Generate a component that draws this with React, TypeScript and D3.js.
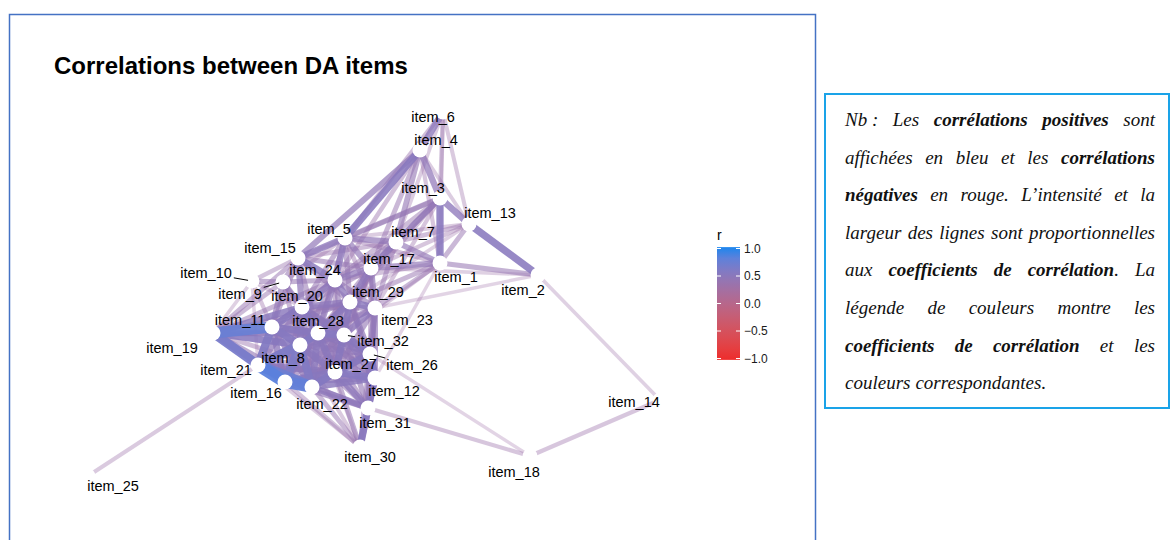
import { useEffect, useRef } from 'react'
import * as d3 from 'd3'

const title = 'Correlations between DA items'

const items = [
  'item_1', 'item_2', 'item_3', 'item_4', 'item_5', 'item_6', 'item_7', 'item_8',
  'item_9', 'item_10', 'item_11', 'item_12', 'item_13', 'item_14', 'item_15', 'item_16',
  'item_17', 'item_18', 'item_19', 'item_20', 'item_21', 'item_22', 'item_23', 'item_24',
  'item_25', 'item_26', 'item_27', 'item_28', 'item_29', 'item_30', 'item_31', 'item_32',
]

// MDS coordinates of the items (same order as items)
const nodeX = [0.60, 1.58, 0.60, 0.40, -0.35, 0.63, 0.16, -0.80, -0.97, -1.28, -1.08, -0.05, 0.89, 2.80, -0.82, -0.95,
  -0.09, 1.50, -1.67, -0.78, -1.22, -0.68, -0.05, -0.45, -2.92, -0.10, -0.45, -0.62, -0.30, -0.20, -0.12, -0.36]
const nodeY = [0.37, 0.25, 1.02, 1.50, 0.62, 1.88, 0.58, -0.45, 0.18, 0.19, -0.27, -0.78, 0.76, -1.00, 0.42, -0.82,
  0.32, -1.56, -0.33, -0.07, -0.65, -0.87, -0.08, 0.20, -1.76, -0.54, -0.72, -0.33, -0.02, -1.47, -1.08, -0.35]

// repelled label positions
const labelX = [0.76, 1.43, 0.43, 0.56, -0.51, 0.53, 0.33, -0.97, -1.40, -1.74, -1.40, 0.14, 1.10, 2.54, -1.10, -1.24,
  0.09, 1.34, -2.08, -0.83, -1.54, -0.58, 0.27, -0.65, -2.67, 0.32, -0.29, -0.62, -0.02, -0.10, 0.05, 0.03]
const labelY = [0.23, 0.10, 1.12, 1.60, 0.71, 1.83, 0.68, -0.58, 0.06, 0.27, -0.20, -0.91, 0.87, -1.02, 0.52, -0.93,
  0.41, -1.72, -0.48, 0.04, -0.70, -1.04, -0.20, 0.30, -1.86, -0.65, -0.64, -0.21, 0.08, -1.57, -1.23, -0.41]
const leaderItems = [9, 10, 26, 32]

// [item a, item b, r]
const edges: [number, number, number][] = [
  [25, 21, 0.33], [18, 14, 0.34], [18, 31, 0.34], [18, 26, 0.30], [14, 2, 0.31],
  [2, 13, 0.52], [2, 1, 0.40], [2, 23, 0.30], [2, 17, 0.31],
  [13, 3, 0.48], [13, 1, 0.38], [13, 7, 0.36], [13, 6, 0.33], [13, 17, 0.34], [13, 5, 0.32], [13, 29, 0.31], [13, 4, 0.32],
  [6, 4, 0.48], [6, 3, 0.35], [6, 5, 0.36], [6, 1, 0.31], [6, 7, 0.32],
  [4, 5, 0.52], [4, 15, 0.45], [4, 3, 0.46], [4, 7, 0.42], [4, 17, 0.38], [4, 24, 0.36], [4, 1, 0.34],
  [3, 1, 0.52], [3, 5, 0.42], [3, 7, 0.44], [3, 17, 0.42], [3, 24, 0.37], [3, 29, 0.35], [3, 23, 0.34], [3, 15, 0.35],
  [1, 7, 0.43], [1, 17, 0.44], [1, 29, 0.38], [1, 23, 0.38], [1, 5, 0.36], [1, 24, 0.35], [1, 32, 0.32], [1, 12, 0.30],
  [7, 5, 0.45], [7, 17, 0.47], [7, 24, 0.40], [7, 29, 0.40], [7, 23, 0.38], [7, 15, 0.36],
  [5, 15, 0.48], [5, 24, 0.48], [5, 17, 0.44], [5, 29, 0.40], [5, 20, 0.40], [5, 9, 0.33], [5, 23, 0.36], [5, 28, 0.38],
  [17, 24, 0.46], [17, 29, 0.48], [17, 23, 0.45], [17, 15, 0.40], [17, 20, 0.40], [17, 28, 0.40], [17, 32, 0.40],
  [17, 26, 0.36], [17, 12, 0.34], [17, 27, 0.36],
  [15, 24, 0.50], [15, 9, 0.40], [15, 10, 0.35], [15, 20, 0.46], [15, 11, 0.40], [15, 29, 0.40], [15, 28, 0.40], [15, 19, 0.38],
  [24, 20, 0.48], [24, 29, 0.48], [24, 28, 0.46], [24, 9, 0.40], [24, 11, 0.42], [24, 23, 0.42], [24, 32, 0.42],
  [24, 8, 0.40], [24, 27, 0.38],
  [10, 9, 0.40], [10, 11, 0.34], [10, 19, 0.31], [10, 20, 0.33], [10, 21, 0.30],
  [9, 20, 0.44], [9, 11, 0.43], [9, 19, 0.37], [9, 28, 0.40], [9, 8, 0.38],
  [20, 29, 0.48], [20, 28, 0.52], [20, 11, 0.52], [20, 8, 0.50], [20, 32, 0.48], [20, 19, 0.50], [20, 23, 0.42],
  [20, 21, 0.46], [20, 27, 0.44], [20, 16, 0.44], [20, 22, 0.43], [20, 26, 0.40],
  [29, 23, 0.50], [29, 28, 0.50], [29, 32, 0.50], [29, 8, 0.44], [29, 26, 0.45], [29, 27, 0.45], [29, 12, 0.42],
  [29, 11, 0.42], [29, 22, 0.40],
  [23, 32, 0.48], [23, 26, 0.46], [23, 12, 0.44], [23, 28, 0.44], [23, 27, 0.42], [23, 31, 0.38], [23, 8, 0.40],
  [11, 19, 0.74], [11, 28, 0.52], [11, 8, 0.54], [11, 21, 0.56], [11, 16, 0.48], [11, 22, 0.45], [11, 32, 0.44], [11, 27, 0.42],
  [28, 32, 0.54], [28, 8, 0.55], [28, 27, 0.50], [28, 26, 0.48], [28, 12, 0.45], [28, 22, 0.50], [28, 16, 0.48],
  [28, 21, 0.48], [28, 19, 0.48], [28, 31, 0.40],
  [32, 26, 0.52], [32, 27, 0.52], [32, 12, 0.48], [32, 8, 0.48], [32, 22, 0.46], [32, 16, 0.43], [32, 31, 0.42], [32, 21, 0.40],
  [8, 21, 0.60], [8, 16, 0.60], [8, 22, 0.56], [8, 27, 0.50], [8, 19, 0.52], [8, 26, 0.45], [8, 12, 0.44], [8, 31, 0.40],
  [19, 21, 0.64], [19, 16, 0.50], [19, 22, 0.42], [19, 27, 0.36], [19, 32, 0.36], [19, 29, 0.36], [19, 24, 0.38],
  [21, 16, 0.82], [21, 22, 0.72], [21, 27, 0.48], [21, 12, 0.40], [21, 26, 0.38], [21, 31, 0.38],
  [16, 22, 0.78], [16, 27, 0.52], [16, 12, 0.44], [16, 31, 0.43], [16, 26, 0.40], [16, 30, 0.35],
  [22, 27, 0.55], [22, 12, 0.50], [22, 31, 0.48], [22, 26, 0.45], [22, 30, 0.38],
  [27, 12, 0.54], [27, 26, 0.52], [27, 31, 0.48], [27, 30, 0.40],
  [26, 12, 0.54], [26, 31, 0.46], [26, 30, 0.38],
  [12, 31, 0.52], [12, 30, 0.46], [31, 30, 0.52],
  [30, 8, 0.33], [30, 28, 0.32], [30, 21, 0.32],
]

const legendTicks = [-1, -0.5, 0, 0.5, 1]

// note box, one entry per line, **bold** runs
const noteLines = [
  'Nb\u00a0: Les **corrélations positives** sont',
  'affichées en bleu et les **corrélations**',
  '**négatives** en rouge. L’intensité et la',
  'largeur des lignes sont proportionnelles',
  'aux **coefficients de corrélation**. La',
  'légende de couleurs montre les',
  '**coefficients de corrélation** et les',
  'couleurs correspondantes.',
]

const sans = '"Liberation Sans", Arial, sans-serif'
const serif = '"Liberation Serif", "Times New Roman", serif'

function splitWords(line: string) {
  const words: { text: string; bold: boolean }[][] = []
  let cur: { text: string; bold: boolean }[] = []
  line.split('**').forEach((part, i) => {
    const bold = i % 2 === 1
    part.split(' ').forEach((b, j) => {
      if (j > 0 && cur.length) { words.push(cur); cur = [] }
      if (b) cur.push({ text: b, bold })
    })
  })
  if (cur.length) words.push(cur)
  return words
}

export default function App() {
  const ref = useRef<SVGSVGElement | null>(null)

  useEffect(() => {
    const el = ref.current
    if (!el) return
    const svg = d3.select(el)
    svg.selectAll('*').remove()

    // frame + title
    svg.append('rect')
      .attr('x', 9.5).attr('y', 14.5).attr('width', 806).attr('height', 540)
      .attr('fill', 'none').attr('stroke', '#4472C4').attr('stroke-width', 1.5)
    svg.append('text')
      .attr('x', 54).attr('y', 74)
      .attr('font-family', sans).attr('font-weight', 'bold').attr('font-size', 24)
      .text(title)

    const x = d3.scaleLinear().domain([-1, 1]).range([280, 480])
    const y = d3.scaleLinear().domain([-1, 1]).range([400, 200])
    const color = d3.scaleLinear<string>().domain([-1, 1]).range(['#EE2C2C', '#1C86EE']).interpolate(d3.interpolateLab)
    const lw = d3.scaleLinear().domain([0.3, 0.85]).range([3.5, 13]).clamp(true)
    const alpha = d3.scaleLinear().domain([0.3, 0.55]).range([0.3, 0.95]).clamp(true)

    const g = svg.append('g')
    const sorted = [...edges].sort((a, b) => Math.abs(a[2]) - Math.abs(b[2]))
    g.selectAll('line.edge').data(sorted).join('line')
      .attr('class', 'edge')
      .attr('x1', d => x(nodeX[d[0] - 1])).attr('y1', d => y(nodeY[d[0] - 1]))
      .attr('x2', d => x(nodeX[d[1] - 1])).attr('y2', d => y(nodeY[d[1] - 1]))
      .attr('stroke', d => color(d[2]))
      .attr('stroke-opacity', d => alpha(Math.abs(d[2])))
      .attr('stroke-width', d => lw(Math.abs(d[2])))

    g.selectAll('circle.node').data(items).join('circle')
      .attr('class', 'node')
      .attr('cx', (_, i) => x(nodeX[i])).attr('cy', (_, i) => y(nodeY[i]))
      .attr('r', 7.5).attr('fill', 'white')

    const labels = g.selectAll('text.lab').data(items).join('text')
      .attr('class', 'lab')
      .attr('x', (_, i) => x(labelX[i])).attr('y', (_, i) => y(labelY[i]))
      .attr('dy', '0.36em')
      .attr('text-anchor', 'middle')
      .attr('font-family', sans).attr('font-size', 14.5).attr('fill', '#000')
      .text(d => d)

    // leader segments (ggrepel style)
    labels.each(function (_, i) {
      if (!leaderItems.includes(i + 1)) return
      const w = (this as SVGTextElement).getComputedTextLength() / 2 + 2
      const h = 7
      const nx = x(nodeX[i]), ny = y(nodeY[i])
      const lx = x(labelX[i]), ly = y(labelY[i])
      const dx = nx - lx, dy = ny - ly
      const t = Math.min(Math.abs(w / (dx || 1e-6)), Math.abs(h / (dy || 1e-6)))
      const ex = lx + dx * t, ey = ly + dy * t
      const len = Math.hypot(nx - ex, ny - ey)
      const sx = nx - (nx - ex) / len * 4, sy = ny - (ny - ey) / len * 4
      g.append('line')
        .attr('x1', sx).attr('y1', sy).attr('x2', ex).attr('y2', ey)
        .attr('stroke', '#000').attr('stroke-width', 1)
    })

    // colour legend
    const ly = d3.scaleLinear().domain([-1, 1]).range([358.5, 248.5])
    const grad = svg.append('defs').append('linearGradient')
      .attr('id', 'rgrad').attr('x1', 0).attr('x2', 0).attr('y1', 1).attr('y2', 0)
    d3.range(0, 1.0001, 0.1).forEach(t => {
      grad.append('stop').attr('offset', t).attr('stop-color', color(-1 + 2 * t))
    })
    const leg = svg.append('g')
    leg.append('text').attr('x', 717).attr('y', 240)
      .attr('font-family', sans).attr('font-size', 14).text('r')
    leg.append('rect').attr('x', 717).attr('y', ly(1.025)).attr('width', 23).attr('height', ly(-1.025) - ly(1.025))
      .attr('fill', 'url(#rgrad)')
    leg.selectAll('line.tl').data(legendTicks).join('line')
      .attr('x1', 717).attr('x2', 721).attr('y1', d => ly(d)).attr('y2', d => ly(d))
      .attr('stroke', 'white').attr('stroke-width', 1)
    leg.selectAll('line.tr').data(legendTicks).join('line')
      .attr('x1', 736).attr('x2', 740).attr('y1', d => ly(d)).attr('y2', d => ly(d))
      .attr('stroke', 'white').attr('stroke-width', 1)
    leg.selectAll('text.tk').data(legendTicks).join('text')
      .attr('class', 'tk')
      .attr('x', 744).attr('y', d => ly(d)).attr('dy', '0.36em')
      .attr('font-family', sans).attr('font-size', 12).attr('fill', '#1a1a1a')
      .text(d => d3.format('.1f')(d))

    // note box
    svg.append('rect').attr('x', 825).attr('y', 94).attr('width', 344).attr('height', 314)
      .attr('fill', 'none').attr('stroke', '#1AA3E8').attr('stroke-width', 2)
    const left = 845, right = 1155
    noteLines.forEach((line, li) => {
      const words = splitWords(line)
      const base = 126 + li * 37.6
      const nodes = words.map(runs => {
        const t = svg.append('text').attr('y', base)
          .attr('font-family', serif).attr('font-style', 'italic').attr('font-size', 19).attr('fill', '#111')
        runs.forEach(r => t.append('tspan').attr('font-weight', r.bold ? 'bold' : 'normal').text(r.text))
        return t
      })
      const widths = nodes.map(t => (t.node() as SVGTextElement).getComputedTextLength())
      const total = d3.sum(widths)
      const last = li === noteLines.length - 1
      const gap = last ? 5 : (right - left - total) / Math.max(1, words.length - 1)
      let cx = left
      nodes.forEach((t, i) => { t.attr('x', cx); cx += widths[i] + gap })
    })
  }, [])

  return <svg ref={ref} width={1170} height={540} style={{ position: 'absolute', left: 0, top: 0, background: 'white' }} />
}
